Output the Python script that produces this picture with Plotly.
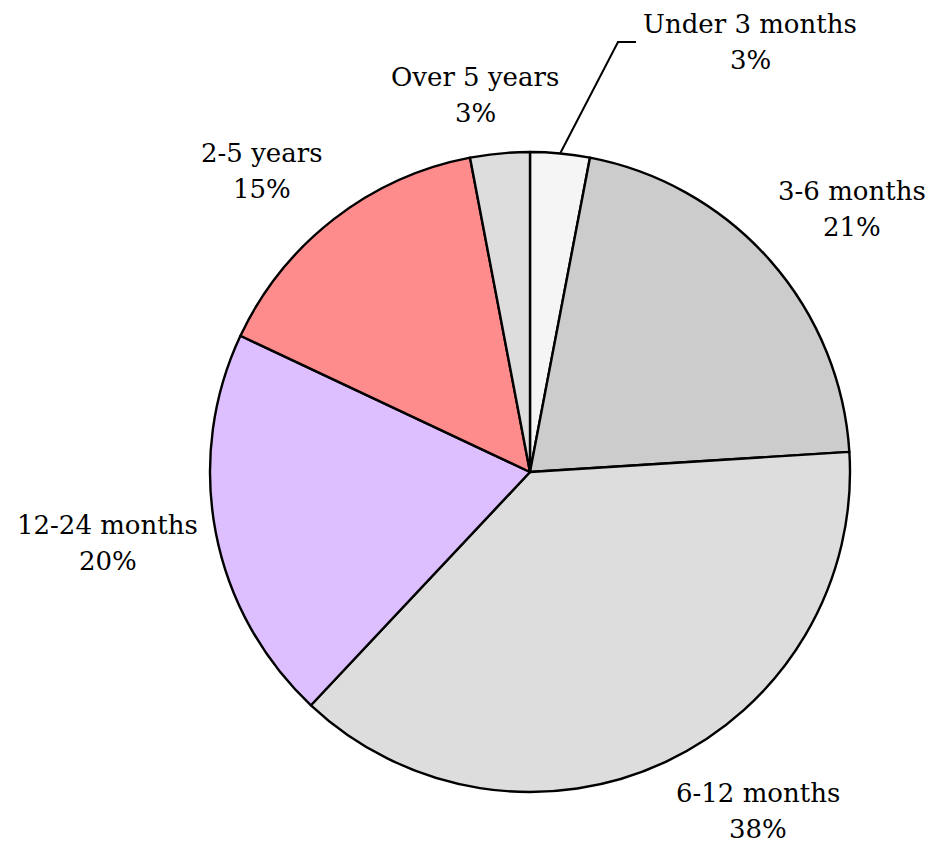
import math
import plotly.graph_objects as go

labels = ["Under 3 months", "3-6 months", "6-12 months", "12-24 months", "2-5 years", "Over 5 years"]
values = [3, 21, 38, 20, 15, 3]
colors = ["#f5f5f5", "#cccccc", "#dddddd", "#ddbfff", "#ff8c8c", "#dddddd"]

W, H = 934, 846
OFF = 8  # page body margin
CX, CY, R = 530 - OFF, 472 - OFF, 320
FONT = "DejaVu Serif"
FS = 26

fig = go.Figure(go.Pie(
    labels=labels, values=values, sort=False, direction="clockwise", rotation=0,
    marker=dict(colors=colors, line=dict(color="black", width=2.4)),
    textinfo="none", hoverinfo="label+percent", showlegend=False,
))

fig.update_traces(domain=dict(x=[(CX - R) / W, (CX + R) / W], y=[1 - (CY + R) / H, 1 - (CY - R) / H]))

total = sum(values)
cum = 0
annotations = []
shapes = []
# label placement style: (radial factor, angle nudge in degrees)
label_place = [None, (1.30, 2.2), (1.277, -8.7), (1.338, 1.2), (1.26, -3.9), (1.19, -2.9)]
for i, (lab, v) in enumerate(zip(labels, values)):
    mid = (cum + v / 2) / total * 2 * math.pi
    cum += v
    pct = f"{round(v / total * 100)}%"
    if label_place[i] is None:
        ex, ey = CX + R * math.sin(mid), CY - R * math.cos(mid)
        elx, ely = CX + 88, CY - 430
        tx, ty = elx + 132, ely
        shapes.append(dict(type="path", xref="paper", yref="paper",
                           path=f"M {ex / W},{1 - ey / H} L {elx / W},{1 - ely / H} L {(elx + 18) / W},{1 - ely / H}",
                           line=dict(color="black", width=2)))
    else:
        f, da = label_place[i]
        a = mid + math.radians(da)
        tx = CX + R * f * math.sin(a)
        ty = CY - R * f * math.cos(a)
    for txt, dy in ((lab, -18), (pct, 18)):
        annotations.append(dict(x=tx / W, y=1 - (ty + dy) / H, xref="paper", yref="paper",
                                text=txt, showarrow=False, xanchor="center", yanchor="middle",
                                font=dict(family=FONT, size=FS, color="black")))

fig.update_layout(width=W, height=H, margin=dict(l=0, r=0, t=0, b=0),
                  paper_bgcolor="white", plot_bgcolor="white",
                  annotations=annotations, shapes=shapes)
fig.write_html("out.html")
